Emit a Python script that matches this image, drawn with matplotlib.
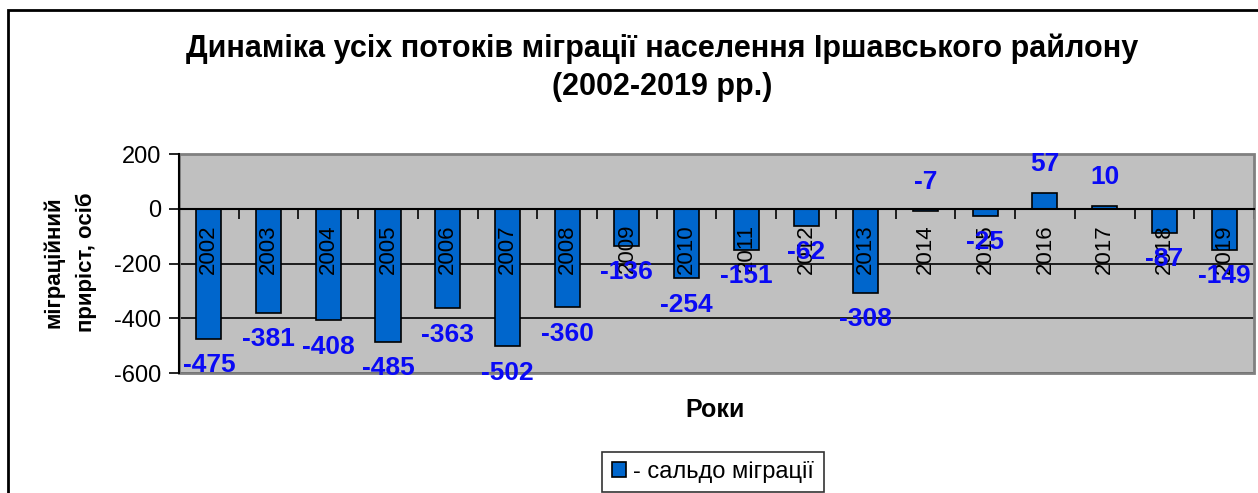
"""Динаміка міграції населення Іршавського району, 2002-2019."""

import matplotlib
matplotlib.use("Agg")
import matplotlib.pyplot as plt
from matplotlib.patches import Rectangle

plt.rcParams["font.family"] = ["Liberation Sans", "DejaVu Sans"]

years = [2002, 2003, 2004, 2005, 2006, 2007, 2008, 2009, 2010,
         2011, 2012, 2013, 2014, 2015, 2016, 2017, 2018, 2019]
saldo = [-475, -381, -408, -485, -363, -502, -360, -136, -254,
         -151, -62, -308, -7, -25, 57, 10, -87, -149]
y_ticks = [-600, -400, -200, 0, 200]

BAR = "#0066CC"
LBL = "#0A0AF5"

fig = plt.figure(figsize=(12.58, 4.93), dpi=100)
ax = fig.add_axes([0.1423, 0.2434, 0.8545, 0.4442])
ax.set_facecolor("#C0C0C0")

x = list(range(len(years)))
ax.bar(x, saldo, width=0.42, color=BAR, edgecolor="black", linewidth=1.2,
       zorder=3, label="- сальдо міграції")

ax.set_xlim(-0.5, len(years) - 0.5)
ax.set_ylim(-600, 200)
ax.set_yticks(y_ticks)
ax.set_yticklabels([str(t) for t in y_ticks], fontsize=17)
ax.yaxis.grid(True, color="black", linewidth=1.2, zorder=1)
ax.set_axisbelow(True)

# x axis sits at zero, ticks between categories
ax.spines["bottom"].set_position(("data", 0))
ax.spines["bottom"].set_linewidth(1.5)
ax.spines["bottom"].set_zorder(4)
ax.set_xticks([i - 0.5 for i in range(len(years) + 1)])
ax.set_xticklabels([])
ax.tick_params(axis="x", direction="out", length=7, width=1.2)
ax.tick_params(axis="y", direction="out", length=7, width=1.2, pad=6)
ax.spines["left"].set_linewidth(1.5)
for s in ["top", "right"]:
    ax.spines[s].set_visible(False)
ax.add_patch(Rectangle((0, 0), 1, 1, transform=ax.transAxes, fill=False,
                       edgecolor="#808080", linewidth=2, zorder=2, clip_on=False))

# year labels next to the axis, value labels past bar ends
for i, (yr, v) in enumerate(zip(years, saldo)):
    ax.annotate(str(yr), (i, 0), xytext=(0, -11), textcoords="offset points",
                rotation=90, ha="center", va="top", fontsize=16, zorder=5)
    off = 21 if v > -10 else -19
    ax.annotate(str(v), (i, v), xytext=(0, off), textcoords="offset points",
                ha="center", va="center", fontsize=19, fontweight="bold",
                color=LBL, zorder=6)

fig.text(715 / 1258, 1 - 410 / 493, "Роки", ha="center", va="center",
         fontsize=18, fontweight="bold")
fig.text(70 / 1258, 1 - 262 / 493, "міграційний\nприріст, осіб", ha="center",
         va="center", rotation=90, fontsize=16, fontweight="bold",
         linespacing=1.75)
fig.text(662 / 1258, 1 - 68 / 493,
         "Динаміка усіх потоків міграції населення Іршавського райлону\n(2002-2019 рр.)",
         ha="center", va="center", fontsize=22, fontweight="bold", linespacing=1.35)

leg = fig.legend(loc="center", bbox_to_anchor=(713 / 1258, 1 - 472 / 493),
                 fontsize=17, frameon=True, fancybox=False, handlelength=0.6,
                 handleheight=0.6, handletextpad=0.3, borderpad=0.4)
leg.get_frame().set_edgecolor("black")
leg.get_frame().set_linewidth(1.2)

# outer chart border
fig.patches.append(Rectangle((8 / 1258, -0.05), 1.2, 1 - 10 / 493 + 0.05,
                             transform=fig.transFigure, fill=False,
                             edgecolor="black", linewidth=2, figure=fig))

fig.savefig("out.png", dpi=100)
